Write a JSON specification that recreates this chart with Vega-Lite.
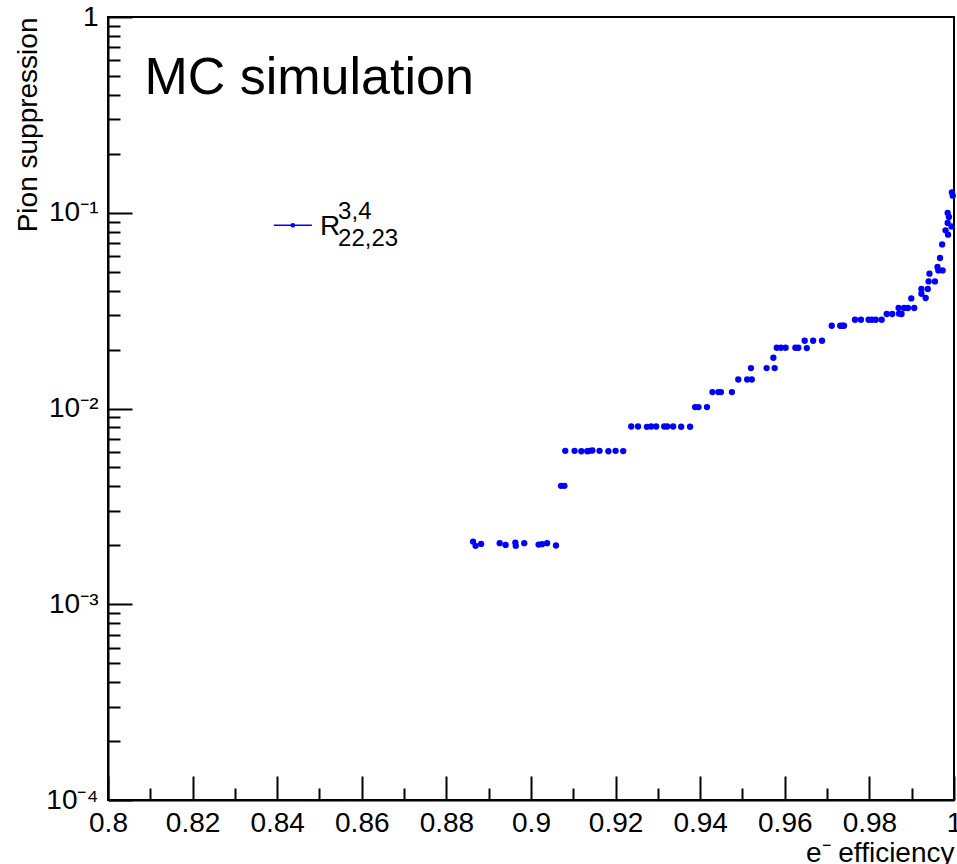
{
  "$schema": "https://vega.github.io/schema/vega-lite/v6.json",
  "autosize": {"type": "none"},
  "width": 846,
  "height": 783,
  "padding": {"left": 108, "top": 17, "right": 3, "bottom": 64},
  "config": {
    "view": {"stroke": "black", "strokeWidth": 2},
    "font": "Liberation Sans"
  },
  "layer": [
    {
      "data": {
        "values": [
          {"eff": 0.8863, "supp": 0.002089},
          {"eff": 0.8869, "supp": 0.001988},
          {"eff": 0.8882, "supp": 0.002033},
          {"eff": 0.8926, "supp": 0.002051},
          {"eff": 0.8940, "supp": 0.002010},
          {"eff": 0.8963, "supp": 0.002065},
          {"eff": 0.8964, "supp": 0.001988},
          {"eff": 0.8984, "supp": 0.002051},
          {"eff": 0.9018, "supp": 0.002018},
          {"eff": 0.9026, "supp": 0.002028},
          {"eff": 0.9038, "supp": 0.002051},
          {"eff": 0.9059, "supp": 0.001995},
          {"eff": 0.9071, "supp": 0.004025},
          {"eff": 0.9079, "supp": 0.004025},
          {"eff": 0.9081, "supp": 0.006077},
          {"eff": 0.9103, "supp": 0.006077},
          {"eff": 0.9119, "supp": 0.006050},
          {"eff": 0.9133, "supp": 0.006050},
          {"eff": 0.9138, "supp": 0.006077},
          {"eff": 0.9145, "supp": 0.006100},
          {"eff": 0.9162, "supp": 0.006077},
          {"eff": 0.9183, "supp": 0.006050},
          {"eff": 0.9200, "supp": 0.006077},
          {"eff": 0.9218, "supp": 0.006060},
          {"eff": 0.9237, "supp": 0.008091},
          {"eff": 0.9253, "supp": 0.008091},
          {"eff": 0.9274, "supp": 0.008060},
          {"eff": 0.9284, "supp": 0.008091},
          {"eff": 0.9296, "supp": 0.008091},
          {"eff": 0.9315, "supp": 0.008091},
          {"eff": 0.9322, "supp": 0.008091},
          {"eff": 0.9336, "supp": 0.008091},
          {"eff": 0.9355, "supp": 0.008070},
          {"eff": 0.9376, "supp": 0.008070},
          {"eff": 0.9388, "supp": 0.010167},
          {"eff": 0.9396, "supp": 0.010167},
          {"eff": 0.9416, "supp": 0.010167},
          {"eff": 0.9429, "supp": 0.01213},
          {"eff": 0.9443, "supp": 0.01213},
          {"eff": 0.9449, "supp": 0.01213},
          {"eff": 0.9475, "supp": 0.01213},
          {"eff": 0.9490, "supp": 0.01407},
          {"eff": 0.9511, "supp": 0.01407},
          {"eff": 0.9522, "supp": 0.01407},
          {"eff": 0.9520, "supp": 0.01609},
          {"eff": 0.9557, "supp": 0.01609},
          {"eff": 0.9576, "supp": 0.01609},
          {"eff": 0.9573, "supp": 0.01816},
          {"eff": 0.9581, "supp": 0.02043},
          {"eff": 0.9591, "supp": 0.02043},
          {"eff": 0.9602, "supp": 0.02043},
          {"eff": 0.9625, "supp": 0.02043},
          {"eff": 0.9632, "supp": 0.02043},
          {"eff": 0.9652, "supp": 0.02035},
          {"eff": 0.9647, "supp": 0.02218},
          {"eff": 0.9667, "supp": 0.02218},
          {"eff": 0.9688, "supp": 0.02218},
          {"eff": 0.9711, "supp": 0.02647},
          {"eff": 0.9731, "supp": 0.02647},
          {"eff": 0.9736, "supp": 0.02647},
          {"eff": 0.9740, "supp": 0.02647},
          {"eff": 0.9766, "supp": 0.02841},
          {"eff": 0.9780, "supp": 0.02841},
          {"eff": 0.9798, "supp": 0.02841},
          {"eff": 0.9806, "supp": 0.02841},
          {"eff": 0.9815, "supp": 0.02841},
          {"eff": 0.9829, "supp": 0.02841},
          {"eff": 0.9841, "supp": 0.03039},
          {"eff": 0.9854, "supp": 0.03039},
          {"eff": 0.9870, "supp": 0.03050},
          {"eff": 0.9876, "supp": 0.03039},
          {"eff": 0.9869, "supp": 0.03261},
          {"eff": 0.9882, "supp": 0.03261},
          {"eff": 0.9891, "supp": 0.03261},
          {"eff": 0.9906, "supp": 0.03261},
          {"eff": 0.9899, "supp": 0.03651},
          {"eff": 0.9923, "supp": 0.04078},
          {"eff": 0.9923, "supp": 0.03858},
          {"eff": 0.9933, "supp": 0.03667},
          {"eff": 0.9938, "supp": 0.04078},
          {"eff": 0.9940, "supp": 0.04459},
          {"eff": 0.9955, "supp": 0.04459},
          {"eff": 0.9942, "supp": 0.04884},
          {"eff": 0.9961, "supp": 0.05283},
          {"eff": 0.9963, "supp": 0.05076},
          {"eff": 0.9973, "supp": 0.05076},
          {"eff": 0.9967, "supp": 0.05873},
          {"eff": 0.9972, "supp": 0.0689},
          {"eff": 0.9980, "supp": 0.08128},
          {"eff": 0.9986, "supp": 0.07727},
          {"eff": 0.9985, "supp": 0.0887},
          {"eff": 0.9994, "supp": 0.08518},
          {"eff": 0.9985, "supp": 0.09977},
          {"eff": 0.9988, "supp": 0.09517},
          {"eff": 0.9995, "supp": 0.1272},
          {"eff": 0.9997, "supp": 0.1223}
        ]
      },
      "mark": {"type": "point", "shape": "circle", "filled": true, "color": "#0000ff", "opacity": 1, "size": 40},
      "encoding": {
        "x": {
          "field": "eff",
          "type": "quantitative",
          "scale": {"domain": [0.8, 1.0], "nice": false, "zero": false},
          "axis": {
            "title": "e⁻ efficiency",
            "values": [0.8, 0.805, 0.81, 0.815, 0.82, 0.825, 0.83, 0.835, 0.84, 0.845, 0.85, 0.855, 0.86, 0.865, 0.87, 0.875, 0.88, 0.885, 0.89, 0.895, 0.9, 0.905, 0.91, 0.915, 0.92, 0.925, 0.93, 0.935, 0.94, 0.945, 0.95, 0.955, 0.96, 0.965, 0.97, 0.975, 0.98, 0.985, 0.99, 0.995, 1.0],
            "tickSize": {"condition": {"test": "abs(datum.value*50 - round(datum.value*50)) < 0.001", "value": -24}, "value": -12},
            "labelExpr": "abs(datum.value*50 - round(datum.value*50)) < 0.001 ? format(datum.value, '~g') : ''",
            "labelPadding": 33,
            "labelFont": "Liberation Sans",
            "labelFontSize": 28,
            "labelColor": "black",
            "labelFlush": false,
            "labelOverlap": false,
            "domainColor": "black",
            "domainWidth": 2,
            "tickColor": "black",
            "tickWidth": 2,
            "grid": false,
            "titleFont": "Liberation Sans",
            "titleFontSize": 28,
            "titleFontWeight": "normal",
            "titleColor": "black",
            "titleAnchor": "end",
            "titleAlign": "right",
            "titleBaseline": "alphabetic",
            "titleX": 846,
            "titleY": 61
          }
        },
        "y": {
          "field": "supp",
          "type": "quantitative",
          "scale": {"type": "log", "domain": [0.0001, 1], "nice": false},
          "axis": {
            "title": "Pion suppression",
            "values": [0.0001, 0.0002, 0.0003, 0.0004, 0.0005, 0.0006, 0.0007, 0.0008, 0.0009, 0.001, 0.002, 0.003, 0.004, 0.005, 0.006, 0.007, 0.008, 0.009, 0.01, 0.02, 0.03, 0.04, 0.05, 0.06, 0.07, 0.08, 0.09, 0.1, 0.2, 0.3, 0.4, 0.5, 0.6, 0.7, 0.8, 0.9, 1],
            "tickSize": {"condition": {"test": "abs(log(datum.value)/LN10 - round(log(datum.value)/LN10)) < 0.001", "value": -24}, "value": -12},
            "labelExpr": "abs(log(datum.value)/LN10 - round(log(datum.value)/LN10)) < 0.001 ? (round(log(datum.value)/LN10) == 0 ? '1' : round(log(datum.value)/LN10) == -1 ? '10⁻¹' : round(log(datum.value)/LN10) == -2 ? '10⁻²' : round(log(datum.value)/LN10) == -3 ? '10⁻³' : '10⁻⁴') : ''",
            "labelPadding": 34,
            "labelFont": "Liberation Sans",
            "labelFontSize": 28,
            "labelColor": "black",
            "labelFlush": false,
            "labelOverlap": false,
            "domainColor": "black",
            "domainWidth": 2,
            "tickColor": "black",
            "tickWidth": 2,
            "grid": false,
            "titleFont": "Liberation Sans",
            "titleFontSize": 28,
            "titleFontWeight": "normal",
            "titleColor": "black",
            "titleAnchor": "end",
            "titleAngle": 270,
            "titleAlign": "right",
            "titleBaseline": "alphabetic",
            "titleX": -72,
            "titleY": 0
          }
        }
      }
    },
    {
      "data": {"values": [{}]},
      "mark": {"type": "rule", "color": "#0000ff", "strokeWidth": 1.5},
      "encoding": {
        "x": {"datum": 0.8392, "type": "quantitative"},
        "x2": {"datum": 0.8482},
        "y": {"datum": 0.0863, "type": "quantitative"}
      }
    },
    {
      "data": {"values": [{}]},
      "mark": {"type": "point", "shape": "circle", "filled": true, "color": "#0000ff", "opacity": 1, "size": 22},
      "encoding": {
        "x": {"datum": 0.8437, "type": "quantitative"},
        "y": {"datum": 0.0863, "type": "quantitative"}
      }
    },
    {
      "data": {"values": [{}]},
      "mark": {"type": "text", "align": "left", "baseline": "alphabetic", "font": "Liberation Sans", "fontSize": 28, "color": "black"},
      "encoding": {
        "x": {"datum": 0.8501, "type": "quantitative"},
        "y": {"datum": 0.0767, "type": "quantitative"},
        "text": {"value": "R"}
      }
    },
    {
      "data": {"values": [{}]},
      "mark": {"type": "text", "align": "left", "baseline": "alphabetic", "font": "Liberation Sans", "fontSize": 24, "color": "black"},
      "encoding": {
        "x": {"datum": 0.8544, "type": "quantitative"},
        "y": {"datum": 0.0926, "type": "quantitative"},
        "text": {"value": "3,4"}
      }
    },
    {
      "data": {"values": [{}]},
      "mark": {"type": "text", "align": "left", "baseline": "alphabetic", "font": "Liberation Sans", "fontSize": 24, "color": "black"},
      "encoding": {
        "x": {"datum": 0.8544, "type": "quantitative"},
        "y": {"datum": 0.0676, "type": "quantitative"},
        "text": {"value": "22,23"}
      }
    },
    {
      "data": {"values": [{}]},
      "mark": {"type": "text", "align": "left", "baseline": "alphabetic", "font": "Liberation Sans", "fontSize": 52, "color": "black"},
      "encoding": {
        "x": {"datum": 0.8086, "type": "quantitative"},
        "y": {"datum": 0.4024, "type": "quantitative"},
        "text": {"value": "MC simulation"}
      }
    }
  ]
}
